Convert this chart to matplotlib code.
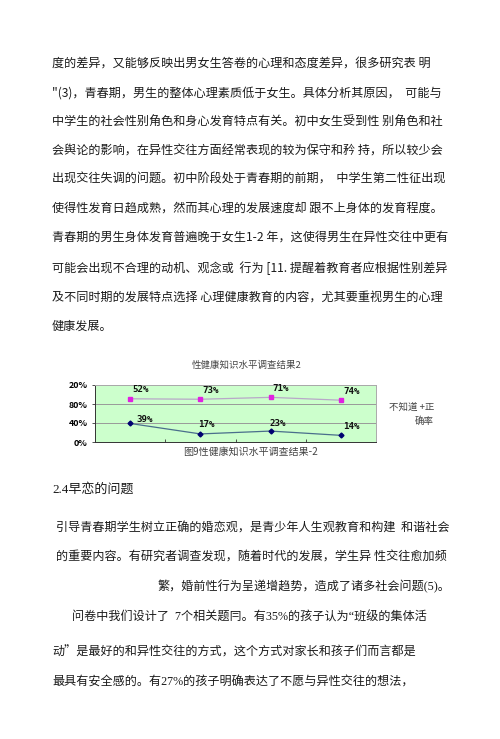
import matplotlib
matplotlib.use("Agg")
import matplotlib.pyplot as plt

plt.rcParams['font.family'] = ['Noto Sans CJK SC', 'DejaVu Sans']

# chart data
categories = ["1", "2", "3", "4"]
correct = [39, 17, 23, 14]          # 正确率
dont_know = [52, 73, 71, 74]        # 不知道
y_ticks = [0, 40, 80, 120]
y_tick_labels = ["0%", "40%", "80%", "20%"]

chart_title = "性健康知识水平调查结果2"
chart_caption = "图9性健康知识水平调查结果-2"
legend_lines = ["不知道 +正", "确率"]

body_1 = [
    "度的差异，又能够反映出男女生答卷的心理和态度差异，很多研究表 明",
    "\"(3)，青春期，男生的整体心理素质低于女生。具体分析其原因，  可能与",
    "中学生的社会性别角色和身心发育特点有关。初中女生受到性 别角色和社",
    "会舆论的影响，在异性交往方面经常表现的较为保守和矜 持，所以较少会",
    "出现交往失调的问题。初中阶段处于青春期的前期，  中学生第二性征出现",
    "使得性发育日趋成熟，然而其心理的发展速度却 跟不上身体的发育程度。",
    "青春期的男生身体发育普遍晚于女生1-2 年，这使得男生在异性交往中更有",
    "可能会出现不合理的动机、观念或  行为 [11. 提醒着教育者应根据性别差异",
    "及不同时期的发展特点选择 心理健康教育的内容，尤其要重视男生的心理",
    "健康发展。",
]
body_1_y = [63, 93, 122, 151, 179, 208, 238, 268, 297, 326]

heading = "2.4早恋的问题"

# (x, y, text, serif digits?)
body_2 = [
    (56, 528, "引导青春期学生树立正确的婚恋观，是青少年人生观教育和构建  和谐社会", False),
    (56, 557, "的重要内容。有研究者调查发现，随着时代的发展，学生异 性交往愈加频", False),
    (158, 587, "繁，婚前性行为呈递增趋势，造成了诸多社会问题(5)。", True),
    (72, 618, "问卷中我们设计了  7个相关题冃。有35%的孩子认为“班级的集体活", True),
    (52, 652, "动”是最好的和异性交往的方式，这个方式对家长和孩子们而言都是", False),
    (52, 683, "最具有安全感的。有27%的孩子明确表达了不愿与异性交往的想法，", True),
]

W, H = 500, 739
fig = plt.figure(figsize=(W / 100, H / 100), dpi=100)
fig.patch.set_facecolor("white")

def fy(y):
    return 1 - y / H

TXT = "#1a1a1a"
SERIF_CJK = ["Liberation Serif", "Noto Sans CJK SC"]
for line, y in zip(body_1, body_1_y):
    fig.text(52 / W, fy(y), line, fontsize=8.7, color=TXT, va="center", ha="left")

fig.text(52 / W, fy(489), heading, fontsize=9.4, color=TXT, va="center",
         ha="left", family=SERIF_CJK)

for x, y, line, serif in body_2:
    fig.text(x / W, fy(y), line, fontsize=8.7, color=TXT, va="center",
             ha="left", family=SERIF_CJK if serif else None)

    #========= CHART =====================================================#

ax = fig.add_axes([95 / W, fy(442), (376 - 95) / W, (442 - 385) / H])
ax.set_facecolor("#ccffcc")
x = list(range(len(categories)))
top = [c + d for c, d in zip(correct, dont_know)]

ax.plot(x, top, color="#b8a8c8", lw=0.9, marker="s", ms=3.2,
        mfc="#e020e0", mec="#e020e0", zorder=3)
ax.plot(x, correct, color="#4a6e8c", lw=0.9, marker="D", ms=2.5,
        mfc="#000070", mec="#000070", zorder=3)

for xi, v, lab in zip(x, top, dont_know):
    ax.annotate(f"{lab}%", (xi, v), xytext=(2, 9), textcoords="offset pixels",
                fontsize=6.6, fontweight="bold", family="DejaVu Sans Mono",
                ha="left", va="center", color="#111111")
offs = [(6, 4), (-2, 9), (-1, 8), (2, 9)]
for xi, v, (dx, dy) in zip(x, correct, offs):
    ax.annotate(f"{v}%", (xi, v), xytext=(dx, dy), textcoords="offset pixels",
                fontsize=6.6, fontweight="bold", family="DejaVu Sans Mono",
                ha="left", va="center", color="#111111")

ax.set_xlim(-0.5, len(categories) - 0.5)
ax.set_ylim(0, 120)
ax.set_yticks(y_ticks)
ax.set_yticklabels(y_tick_labels, fontsize=6.4, fontweight="bold")
ax.set_xticks([i + 0.5 for i in range(len(categories) - 1)])
ax.set_xticklabels([])
ax.tick_params(axis="x", length=2.5, width=0.6, color="#333333", direction="in")
ax.tick_params(axis="y", length=2.5, width=0.6, color="#333333", pad=3)
ax.grid(axis="y", color="#999999", lw=0.7)
ax.set_axisbelow(True)
for s in ["top", "right"]:
    ax.spines[s].set_color("#aaaaaa")
    ax.spines[s].set_linewidth(0.7)
for s in ["left", "bottom"]:
    ax.spines[s].set_color("#333333")
    ax.spines[s].set_linewidth(0.7)

fig.text(247 / W, fy(365), chart_title, fontsize=6.8, color="#444444",
         ha="center", va="center")
fig.text(250 / W, fy(452), chart_caption, fontsize=7.2, color="#444444",
         ha="center", va="center")
fig.text(434 / W, fy(407), legend_lines[0], fontsize=6.8, color="#444444",
         ha="right", va="center")
fig.text(434 / W, fy(421), legend_lines[1], fontsize=6.8, color="#444444",
         ha="right", va="center")

fig.savefig("out.png", dpi=100)
